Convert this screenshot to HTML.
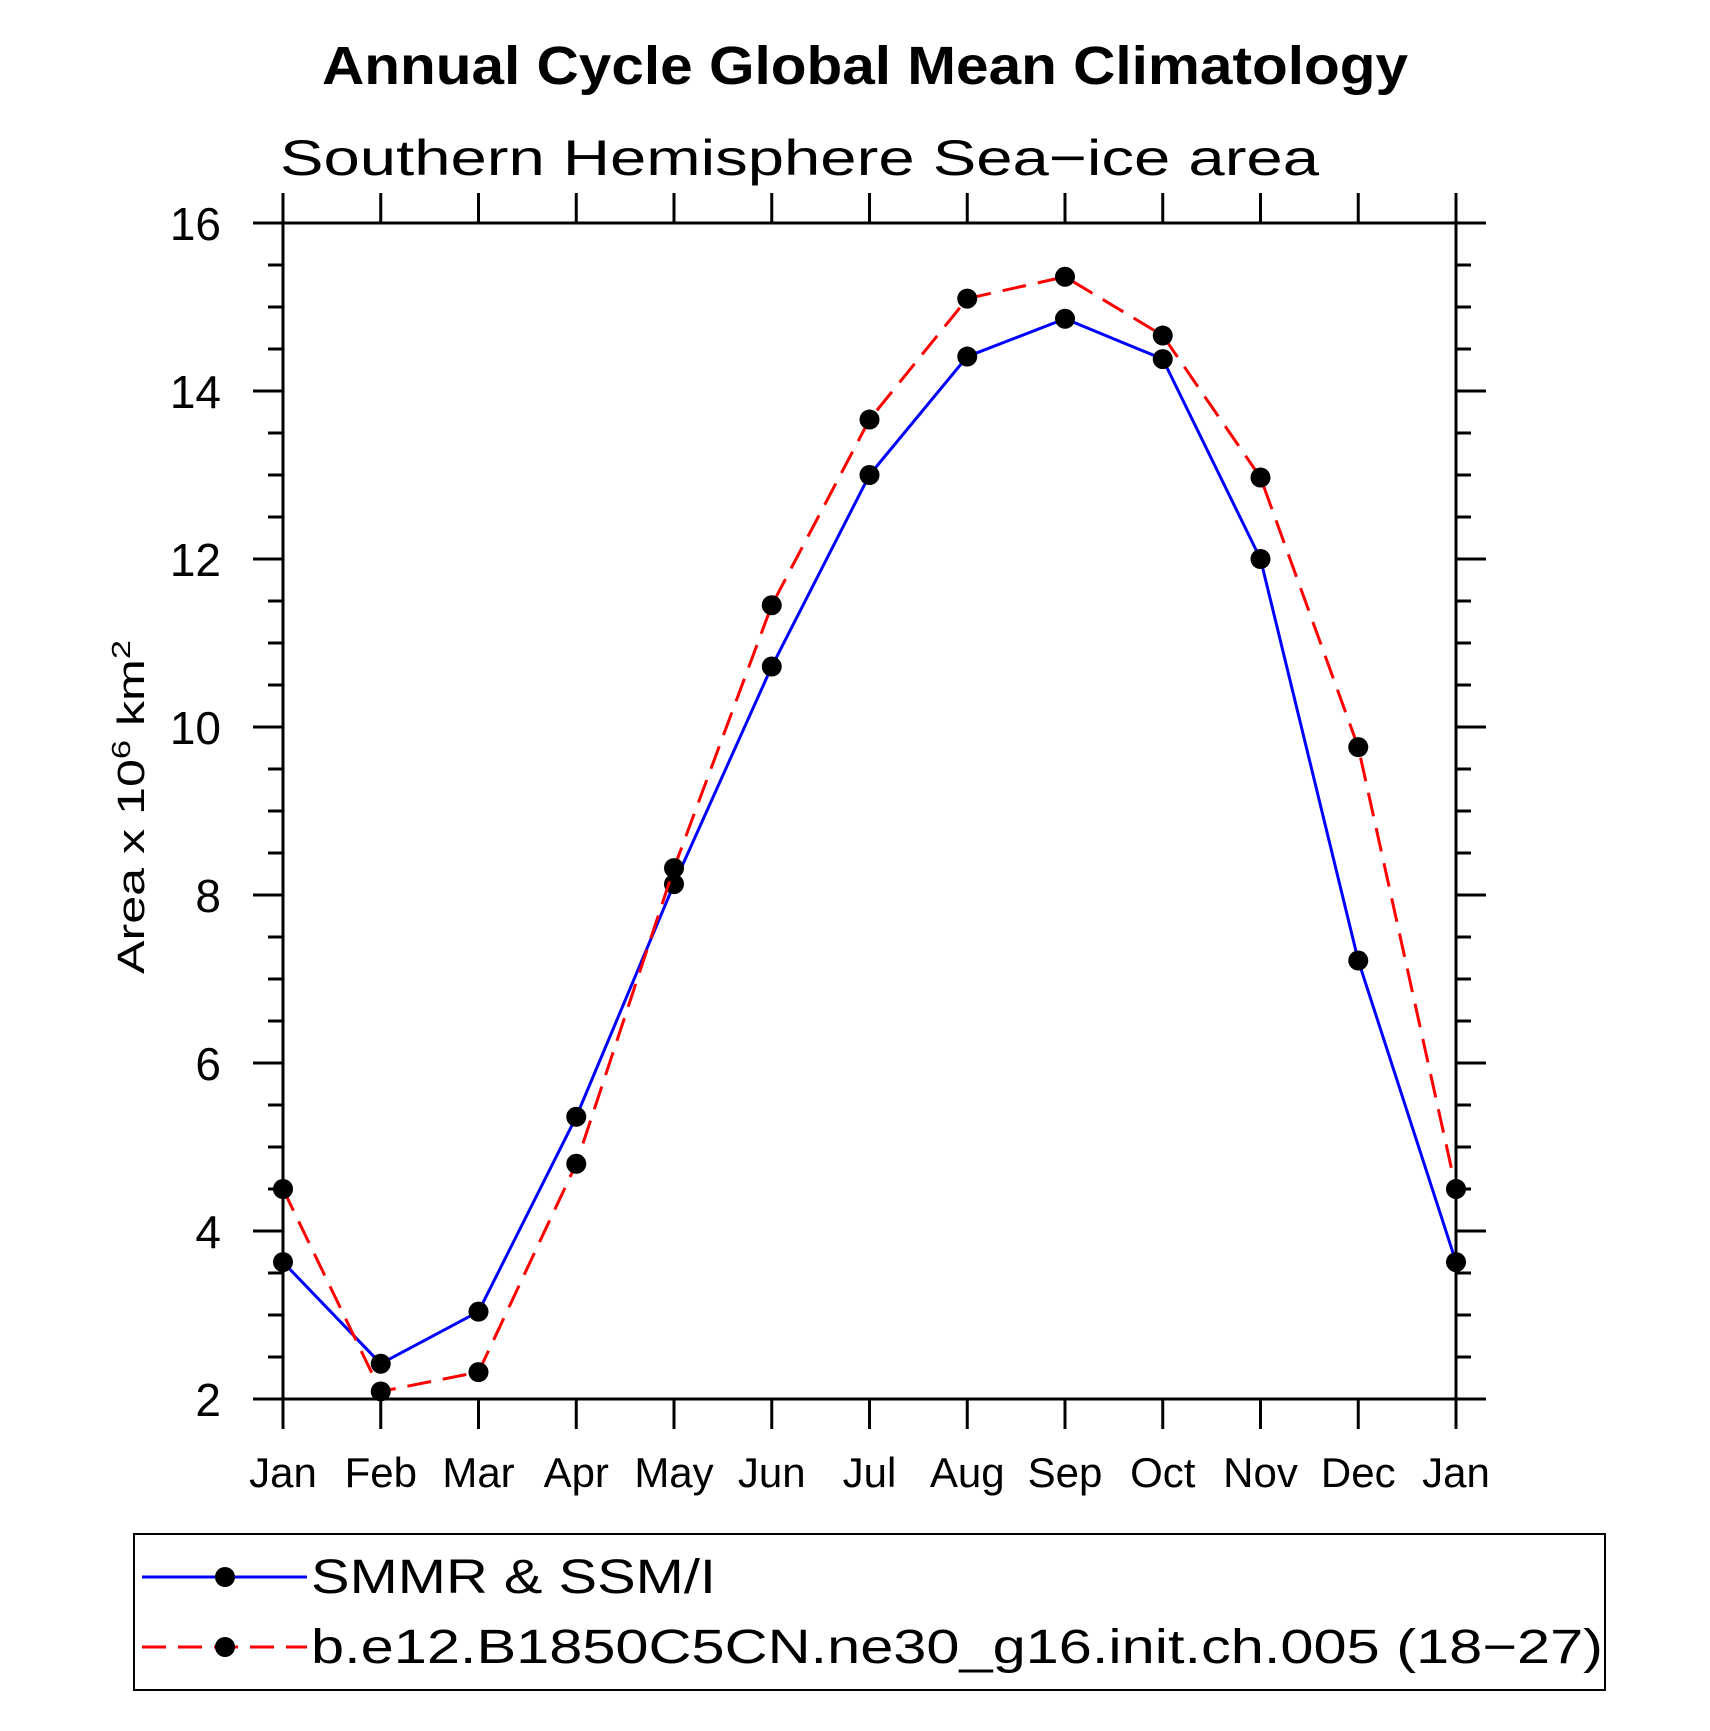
<!DOCTYPE html>
<html><head><meta charset="utf-8"><style>
html,body{margin:0;padding:0;background:#fff;}
svg{display:block;font-family:"Liberation Sans",sans-serif;}
</style></head><body>
<svg id="chart" width="1710" height="1731" viewBox="0 0 1710 1731" xmlns="http://www.w3.org/2000/svg">
<rect width="1710" height="1731" fill="#fff"/>
<text x="322" y="84" font-size="54" font-weight="bold" textLength="1086" lengthAdjust="spacingAndGlyphs">Annual Cycle Global Mean Climatology</text>
<text x="280" y="175" font-size="50" textLength="1039" lengthAdjust="spacingAndGlyphs">Southern Hemisphere Sea−ice area</text>
<text transform="translate(144,807) rotate(-90)" text-anchor="middle" font-size="38" textLength="334" lengthAdjust="spacingAndGlyphs">Area x 10<tspan dy="-14" font-size="26">6</tspan><tspan dy="14"> km</tspan><tspan dy="-14" font-size="26">2</tspan></text>
<g id="axes"></g>
<g id="series"></g>
<rect x="134" y="1534" width="1471" height="156" fill="none" stroke="#000" stroke-width="2"/>
<g>
<line x1="142" y1="1577" x2="307" y2="1577" stroke="#00f" stroke-width="3"/>
<circle cx="225" cy="1577" r="10"/>
<text x="311" y="1593" font-size="48" textLength="405" lengthAdjust="spacingAndGlyphs">SMMR &amp; SSM/I</text>
</g>
<g>
<line x1="142" y1="1647" x2="307" y2="1647" stroke="#f00" stroke-width="3" stroke-dasharray="24,12"/>
<circle cx="225" cy="1647" r="10"/>
<text x="311" y="1663" font-size="48" textLength="1292" lengthAdjust="spacingAndGlyphs">b.e12.B1850C5CN.ne30_g16.init.ch.005 (18−27)</text>
</g>
</svg>
<script>
const months = ["Jan","Feb","Mar","Apr","May","Jun","Jul","Aug","Sep","Oct","Nov","Dec","Jan"];
const yTicks = [2,4,6,8,10,12,14,16];
const obsValues = [3.63,2.42,3.04,5.36,8.13,10.72,13.0,14.41,14.86,14.38,12.0,7.22,3.63];
const modelValues = [4.5,2.09,2.32,4.8,8.32,11.45,13.66,15.1,15.36,14.66,12.97,9.76,4.5];

const NS="http://www.w3.org/2000/svg";
const X0=283,X1=1456,Y0=1399,Y1=223,YMIN=2,YMAX=16;
function xs(i){return X0+i*(X1-X0)/12;}
function ys(v){return Y0-(v-YMIN)*(Y0-Y1)/(YMAX-YMIN);}
function mk(tag,attrs,parent){const e=document.createElementNS(NS,tag);for(const k in attrs)e.setAttribute(k,attrs[k]);parent.appendChild(e);return e;}
const axes=document.getElementById('axes');
const frame=mk('rect',{x:X0,y:Y1,width:X1-X0,height:Y0-Y1,fill:'none',stroke:'#000','stroke-width':3},axes);


months.forEach((m,i)=>{
  const x=xs(i);
  mk('line',{x1:x,y1:Y0,x2:x,y2:Y0+30,stroke:'#000','stroke-width':3},axes);
  mk('line',{x1:x,y1:Y1,x2:x,y2:Y1-30,stroke:'#000','stroke-width':3},axes);
  const t=mk('text',{x:x,y:1487,'text-anchor':'middle','font-size':42},axes);
  t.textContent=m;
  
  
});
for(let v=YMIN;v<=YMAX;v+=0.5){
  const y=ys(v);const major=(v%2===0);const len=major?30:15;
  mk('line',{x1:X0,y1:y,x2:X0-len,y2:y,stroke:'#000','stroke-width':3},axes);
  mk('line',{x1:X1,y1:y,x2:X1+len,y2:y,stroke:'#000','stroke-width':3},axes);
}
yTicks.forEach(v=>{
  const t=mk('text',{x:221,y:ys(v)+17,'text-anchor':'end','font-size':46},axes);
  t.textContent=String(v);
  
  
});
const g=document.getElementById('series');
function draw(vals,color,dash,name){
  const pts=vals.map((v,i)=>xs(i)+','+ys(v)).join(' ');
  const pl=mk('polyline',{points:pts,fill:'none',stroke:color,'stroke-width':3},g);
  if(dash)pl.setAttribute('stroke-dasharray',dash);
  
  
  vals.forEach((v,i)=>{
    const c=mk('circle',{cx:xs(i),cy:ys(v),r:10,fill:'#000'},g);
    
    
  });
}
draw(obsValues,'#00f',null,'smmr');
draw(modelValues,'#f00','24,12','model');
</script>
</body></html>
